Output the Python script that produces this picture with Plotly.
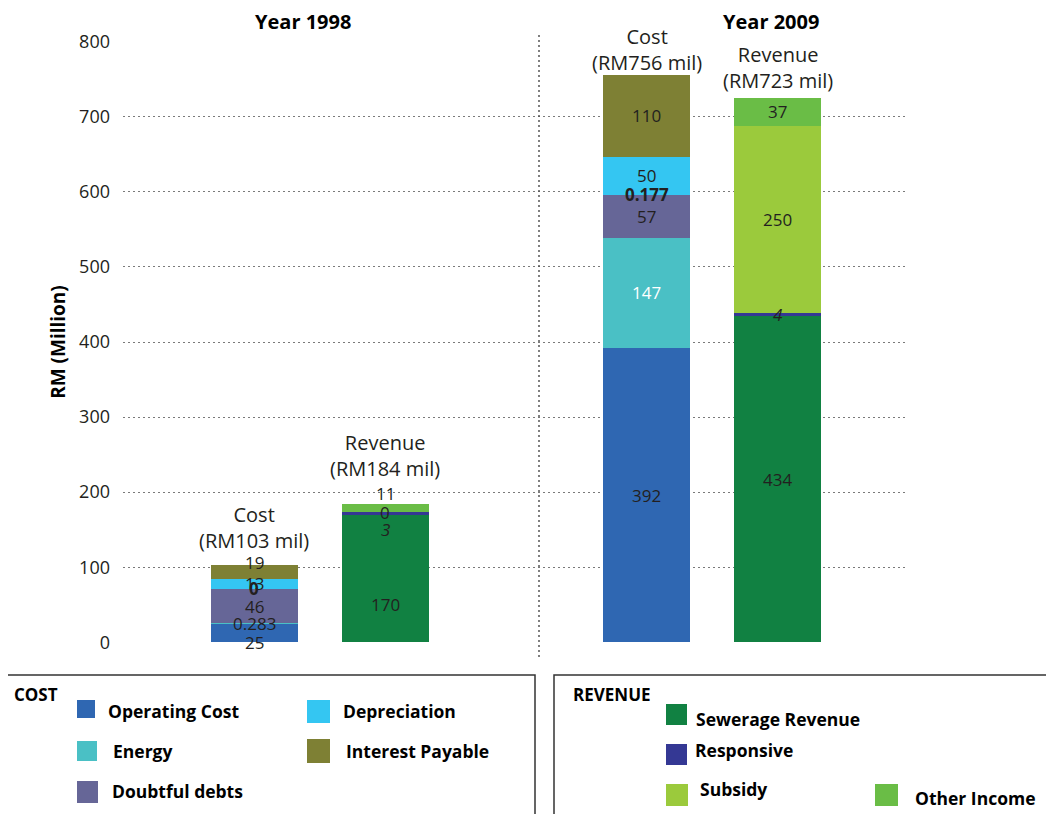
import plotly.graph_objects as go

# ---- data ----
COST_SERIES = ["Operating Cost", "Energy", "Doubtful debts", "Unallocated", "Depreciation", "Interest Payable"]
COST_1998 = [25, 0.283, 46, 0, 13, 19]
COST_2009 = [392, 147, 57, 0.177, 50, 110]

REVENUE_SERIES = ["Sewerage Revenue", "Responsive", "Subsidy", "Other Income"]
REVENUE_1998 = [170, 3, 0, 11]
REVENUE_2009 = [434, 4, 250, 37]

YEARS = ["Year 1998", "Year 2009"]
COST_TOTALS = ["RM103 mil", "RM756 mil"]
REVENUE_TOTALS = ["RM184 mil", "RM723 mil"]
Y_TICKS = [0, 100, 200, 300, 400, 500, 600, 700, 800]

COLORS = {
    "Operating Cost": "#2F67B2",
    "Energy": "#4AC0C5",
    "Doubtful debts": "#666697",
    "Unallocated": "#999999",
    "Depreciation": "#34C6F2",
    "Interest Payable": "#7E8034",
    "Sewerage Revenue": "#118142",
    "Responsive": "#343894",
    "Subsidy": "#9BCA3C",
    "Other Income": "#6ABD46",
}

FONT = "Open Sans"
TXT = "#231F20"

# ---- layout geometry (screen pixels; page body has an 8px margin) ----
PAGE = 8
W, H = 1054 - PAGE, 814 - PAGE
PLOT_L, PLOT_T, PLOT_W, PLOT_H = 123, 41, 784, 602
COST_X = [0, 3]
REV_X = [1, 4]
BAR_W = 0.665


def xp(px):
    return (px - PLOT_L) / PLOT_W


def yp(py):
    return (PLOT_T + PLOT_H - py) / PLOT_H


fig = go.Figure()

for i, name in enumerate(COST_SERIES):
    fig.add_trace(go.Bar(
        x=COST_X, y=[COST_1998[i], COST_2009[i]], name=name,
        marker=dict(color=COLORS[name], line=dict(width=0)),
        width=BAR_W, showlegend=False,
        hovertemplate=name + ": %{y}<extra></extra>",
    ))
for i, name in enumerate(REVENUE_SERIES):
    fig.add_trace(go.Bar(
        x=REV_X, y=[REVENUE_1998[i], REVENUE_2009[i]], name=name,
        marker=dict(color=COLORS[name], line=dict(width=0)),
        width=BAR_W, showlegend=False,
        hovertemplate=name + ": %{y}<extra></extra>",
    ))

# segment labels (some nudged apart like the original)
LABEL_SHIFT = {
    ("Operating Cost", 0): -10, ("Interest Payable", 0): 9,
    ("Sewerage Revenue", 0): -26, ("Responsive", 0): -16, ("Other Income", 0): 15,
}
annotations = []


def add_segment_labels(series, per_year, xs):
    for yi, vals in enumerate(per_year):
        base = 0
        for name, v in zip(series, vals):
            text = f"{v:g}"
            style = "normal"
            if name == "Responsive":
                text = f"<i>{text}</i>"
                style = "italic"
            if name == "Unallocated":
                text = f"<b>{text}</b>"
            color = "white" if (name, yi) == ("Energy", 1) else TXT
            annotations.append(dict(
                x=xs[yi], y=base + v / 2, xref="x", yref="y", text=text,
                showarrow=False, yshift=LABEL_SHIFT.get((name, yi), 0),
                font=dict(family=FONT, size=17, color=color, style=style),
            ))
            base += v


add_segment_labels(COST_SERIES, [COST_1998, COST_2009], COST_X)
add_segment_labels(REVENUE_SERIES, [REVENUE_1998, REVENUE_2009], REV_X)

# bar headers
HEAD_SHIFT_COST = [37, 25]
HEAD_SHIFT_REV = [49, 31]
for yi in range(2):
    annotations.append(dict(
        x=COST_X[yi], y=sum([COST_1998, COST_2009][yi]), xref="x", yref="y",
        text=f"Cost<br>({COST_TOTALS[yi]})", showarrow=False, yanchor="middle",
        yshift=HEAD_SHIFT_COST[yi], font=dict(family=FONT, size=20, color=TXT),
    ))
    annotations.append(dict(
        x=REV_X[yi], y=sum([REVENUE_1998, REVENUE_2009][yi]), xref="x", yref="y",
        text=f"Revenue<br>({REVENUE_TOTALS[yi]})", showarrow=False, yanchor="middle",
        yshift=HEAD_SHIFT_REV[yi], font=dict(family=FONT, size=20, color=TXT),
    ))

# year titles
for label, cx in zip(YEARS, [303, 771]):
    annotations.append(dict(
        x=xp(cx), y=yp(21), xref="paper", yref="paper", text=f"<b>{label}</b>",
        showarrow=False, xanchor="center", yanchor="middle", borderpad=0,
        font=dict(family=FONT, size=20, color="black"),
    ))

shapes = [
    # divider between years
    dict(type="line", xref="paper", yref="paper", x0=xp(539), x1=xp(539),
         y0=yp(657), y1=yp(35), line=dict(color="#555555", width=1.5, dash="2px,3px")),
    # legend boxes
    dict(type="rect", xref="paper", yref="paper", x0=xp(5), x1=xp(535),
         y0=yp(675), y1=yp(830), line=dict(color="#333333", width=1.5)),
    dict(type="rect", xref="paper", yref="paper", x0=xp(554), x1=xp(1070),
         y0=yp(675), y1=yp(830), line=dict(color="#333333", width=1.5)),
]

# legend items: (name, swatch x0, y0, x1, y1, text x, text y)
LEGEND_ITEMS = [
    ("Operating Cost", 77, 700, 95, 718, 106, 711),
    ("Depreciation", 307, 700, 330, 723, 341, 711),
    ("Energy", 77, 741, 97, 761, 111, 751),
    ("Interest Payable", 307, 739, 330, 763, 344, 751),
    ("Doubtful debts", 77, 781, 98, 803, 110, 791),
    ("Sewerage Revenue", 666, 704, 687, 725, 694, 719),
    ("Responsive", 666, 744, 687, 765, 693, 750),
    ("Subsidy", 666, 784, 688, 806, 698, 789),
    ("Other Income", 875, 784, 898, 806, 913, 798),
]
for name, sx0, sy0, sx1, sy1, tx, ty in LEGEND_ITEMS:
    shapes.append(dict(type="rect", xref="paper", yref="paper",
                       x0=xp(sx0), x1=xp(sx1), y0=yp(sy1), y1=yp(sy0),
                       fillcolor=COLORS[name], line=dict(width=0)))
    annotations.append(dict(
        x=xp(tx), y=yp(ty), xref="paper", yref="paper", text=f"<b>{name}</b>",
        showarrow=False, xanchor="left", yanchor="middle",
        font=dict(family=FONT, size=17.5, color="black"),
    ))
for title, tx, ty in [("COST", 12, 695), ("REVENUE", 571, 695)]:
    annotations.append(dict(
        x=xp(tx), y=yp(ty), xref="paper", yref="paper", text=f"<b>{title}</b>",
        showarrow=False, xanchor="left", yanchor="middle",
        font=dict(family=FONT, size=17, color="black"),
    ))

fig.update_layout(
    width=W, height=H,
    barmode="stack",
    plot_bgcolor="white", paper_bgcolor="white",
    margin=dict(l=PLOT_L - PAGE, r=W + PAGE - PLOT_L - PLOT_W, t=PLOT_T - PAGE,
                b=H + PAGE - PLOT_T - PLOT_H, pad=0),
    font=dict(family=FONT, color=TXT),
    xaxis=dict(range=[-1.005, 4.988], showticklabels=False, showgrid=False,
               zeroline=False, showline=False, ticks=""),
    yaxis=dict(range=[-1, 801], tickvals=Y_TICKS, showgrid=True, gridcolor="#7a7a7a",
               gridwidth=1, griddash="1.5px,3.5px", zeroline=False, showline=False,
               ticks="", ticklabelstandoff=12, tickfont=dict(family=FONT, size=18, color=TXT),
               title=dict(text="<b>RM (Million)</b>", standoff=8,
                          font=dict(family=FONT, size=19, color="black"))),
    shapes=shapes,
    annotations=annotations,
    showlegend=False,
)

fig.write_html("out.html")
